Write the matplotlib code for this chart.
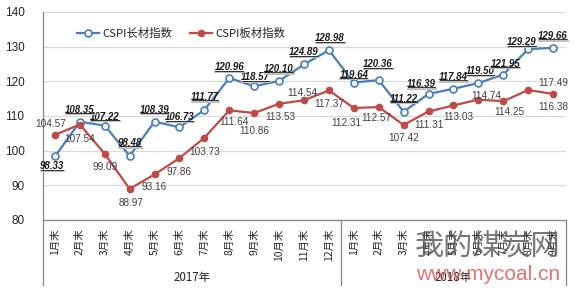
import matplotlib
matplotlib.use('Agg')
import matplotlib.pyplot as plt
import matplotlib.transforms as mtrans
from matplotlib.lines import Line2D

# ---------------- data ----------------
months_2017 = ['1月末', '2月末', '3月末', '4月末', '5月末', '6月末', '7月末', '8月末',
               '9月末', '10月末', '11月末', '12月末']
months_2018 = ['1月末', '2月末', '3月末', '4月末', '5月末', '6月末', '7月末', '8月末', '9月末']
categories = months_2017 + months_2018
years = ['2017年', '2018年']
series_names = ['CSPI长材指数', 'CSPI板材指数']
long_vals = [98.33, 108.35, 107.22, 98.48, 108.39, 106.73, 111.77, 120.96, 118.57, 120.10,
             124.89, 128.98, 119.64, 120.36, 111.22, 116.39, 117.84, 119.50, 121.95,
             129.29, 129.66]
flat_vals = [104.57, 107.54, 99.09, 88.97, 93.16, 97.86, 103.73, 111.64, 110.86, 113.53,
             114.54, 117.37, 112.31, 112.57, 107.42, 111.31, 113.03, 114.74, 114.25,
             117.49, 116.38]

# ---------------- layout (label offsets in pixels) ----------------
long_off = [(-3, -10), (0, 12), (0, 9), (0, 13), (0, 12), (0, 10), (1, 13), (0, 11), (1, 9),
            (0, 12), (0, 12), (1, 12), (0, 8), (-1, 16), (0, 13), (-7, 10), (0, 12), (2, 12),
            (2, 11), (-6, 7), (0, 12)]
flat_off = [(-4, 11), (0, -14), (0, -13), (1, -14), (0, -13), (0, -14), (0, -14), (5, -12),
            (0, -18), (1, -13), (-2, 7), (0, -14), (-7, -15), (-2, -11), (0, -13), (0, -14),
            (5, -12), (8, 4), (6, -11), (25, 7), (0, -13)]

BLUE = '#4A7EBB'
RED = '#BE4B48'
CJK = ['Noto Sans CJK SC', 'DejaVu Sans']
NUM = ['Liberation Sans', 'DejaVu Sans']

fig = plt.figure(figsize=(5.86, 2.92), dpi=100)
ax = fig.add_axes([42.5 / 586, 1 - 220 / 292, 523 / 586, 208 / 292])

x = list(range(len(categories)))
ax.plot(x, long_vals, color=BLUE, lw=1.6, marker='o', ms=5, mfc='white', mec=BLUE,
        mew=1.2, label=series_names[0], zorder=3)
ax.plot(x, flat_vals, color=RED, lw=1.6, marker='o', ms=4.5, mfc=RED, mec=RED,
        label=series_names[1], zorder=3)

ax.set_ylim(80, 140)
ax.set_xlim(-0.5, len(categories) - 0.5)
ax.set_yticks(range(80, 141, 10))
ax.grid(axis='y', color='#D9D9D9', lw=0.8)
ax.set_axisbelow(True)
for s in ['top', 'right', 'left']:
    ax.spines[s].set_visible(False)
ax.spines['bottom'].set_color('#868686')
ax.spines['bottom'].set_linewidth(0.9)
ax.tick_params(axis='y', length=0, pad=13, labelsize=8.5, labelcolor='#262626')
for lab in ax.get_yticklabels():
    lab.set_family(NUM)
ax.set_xticks(x)
ax.set_xticklabels(categories, rotation=90, fontsize=7.5, family=CJK, color='#262626',
                   va='top')
ax.tick_params(axis='x', length=0, pad=6)

# category group separators
trans = mtrans.blended_transform_factory(ax.transData, ax.transAxes)
bottom = -65 / 208
for xs in [-0.5, 11.5, len(categories) - 0.5]:
    ax.add_line(Line2D([xs, xs], [0, bottom], transform=trans, color='#868686', lw=0.9,
                       clip_on=False))
ax.add_line(Line2D([-0.5, -0.5], [0, 1], transform=trans, color='#868686', lw=0.9,
                   clip_on=False))
ax.text(5.5, -57 / 208, years[0], transform=trans, ha='center', va='center', fontsize=8.3,
        family=CJK, color='#262626')
ax.text(16, -57 / 208, years[1], transform=trans, ha='center', va='center', fontsize=8.3,
        family=CJK, color='#262626')

# data labels
blue_texts = []
for i, v in enumerate(long_vals):
    t = ax.annotate(f'{v:.2f}', (i, v), xytext=long_off[i], textcoords='offset pixels',
                    ha='center', va='center', fontsize=7, fontweight='bold',
                    fontstyle='italic', family=NUM, color='#1a1a1a', zorder=5)
    blue_texts.append(t)
for i, v in enumerate(flat_vals):
    ax.annotate(f'{v:.2f}', (i, v), xytext=flat_off[i], textcoords='offset pixels',
                ha='center', va='center', fontsize=7.2, family=NUM, color='#404040',
                zorder=5)

# legend
leg = ax.legend(loc='center left', bbox_to_anchor=(77 / 586, 1 - 33 / 292),
                bbox_transform=fig.transFigure, ncol=2, frameon=False, borderpad=0,
                borderaxespad=0, handlelength=1.9, handletextpad=0.3, columnspacing=1.6,
                prop={'family': CJK, 'size': 8.2})
for t in leg.get_texts():
    t.set_color('#262626')

# watermark
fig.text(488 / 586, 1 - 248 / 292, '我的煤炭网', ha='center', va='center', fontsize=21,
         family=CJK, color='#555555', alpha=0.8, zorder=10)
fig.text(488 / 586, 1 - 274 / 292, 'www.mycoal.cn', ha='center', va='center', fontsize=15,
         family=NUM, color='#D9534F', alpha=0.8, zorder=10)

# underline + gray shadow for blue labels
fig.canvas.draw()
r = fig.canvas.get_renderer()
for t in blue_texts:
    bb = t.get_window_extent(r)
    y0 = bb.y0 + 1.5
    fig.add_artist(Line2D([bb.x0 + 1, bb.x1], [y0 - 1.2, y0 - 1.2], transform=None,
                          color='#BFBFBF', lw=1.4, zorder=4))
    fig.add_artist(Line2D([bb.x0 + 1, bb.x1 - 1], [y0, y0], transform=None,
                          color='#1a1a1a', lw=0.6, zorder=6))

fig.savefig('out.png', dpi=100)
